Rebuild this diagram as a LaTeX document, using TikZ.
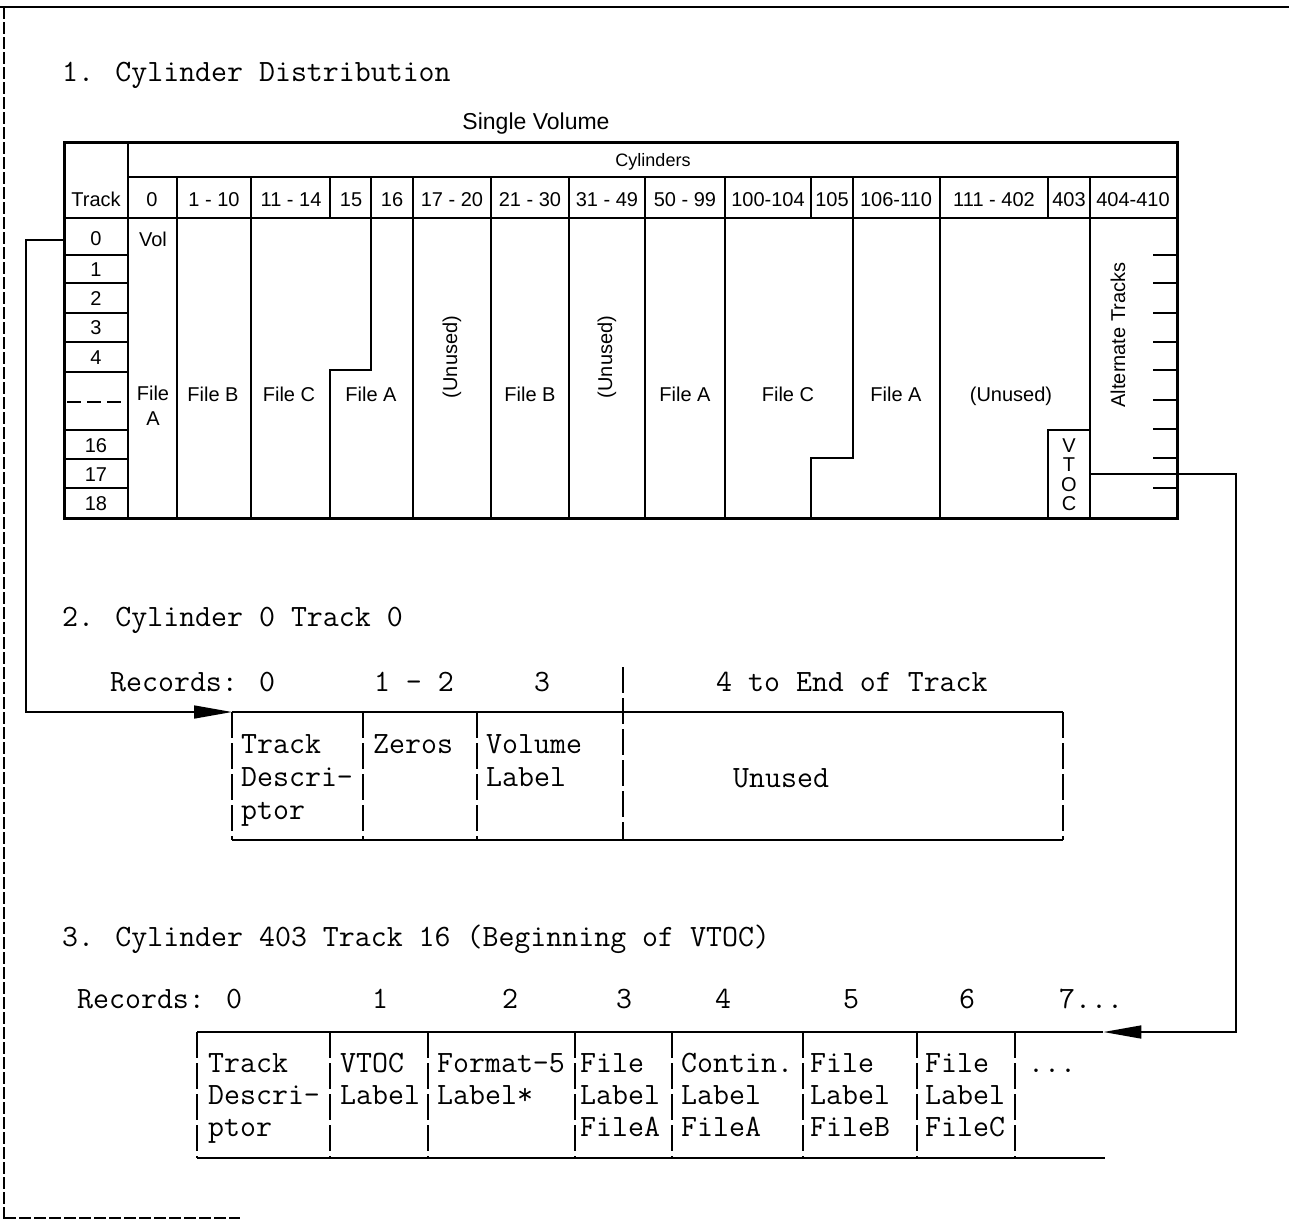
\documentclass[tikz,border=0pt]{standalone}
\usepackage{fontspec}
\setsansfont{Liberation Sans}
\usetikzlibrary{arrows.meta}
\newcommand{\twfont}{\fontsize{31}{31}\selectfont\ttfamily\addfontfeatures{FakeBold=0.8}}
\begin{document}
\begin{tikzpicture}[x=1pt,y=-1pt,
  tw/.style={font=\twfont, inner sep=0pt, anchor=base west},
  twc/.style={font=\twfont, inner sep=0pt, anchor=base},
  sf/.style={font=\fontsize{20}{20}\selectfont\sffamily, inner sep=0pt, anchor=base},
  rot/.style={font=\fontsize{20}{20}\selectfont\sffamily, inner sep=0pt, rotate=90, anchor=center},
  heavy/.style={line width=3pt, line join=miter},
  gridl/.style={line width=2.4pt},
  tline/.style={line width=1.4pt},
  tbar/.style={line width=1.4pt, dash pattern=on 26pt off 5pt},
  conn/.style={line width=1.6pt},
  arr/.style={-{Triangle[length=38pt,width=13pt]}},
  hole/.style={inner sep=0pt, draw=none}
]
\useasboundingbox (0,0) rectangle (1289,1221);

% outer frame
\draw[line width=1.5pt] (0,7) -- (1289,7);
\draw[line width=1.2pt, dash pattern=on 12pt off 3pt] (4,7) -- (4,1221);
\draw[line width=1.2pt, dash pattern=on 12pt off 3pt] (4,1218) -- (240,1218);

% ---------- section 1 ----------
\node[tw] (title1) at (62,81) {1. Cylinder Distribution};
\node[font=\fontsize{23}{23}\selectfont\sffamily, inner sep=0pt, anchor=base] (sv) at (536,129) {Single Volume};
\node[font=\fontsize{18}{18}\selectfont\sffamily, inner sep=0pt, anchor=base] (cyl) at (653,166) {Cylinders};

\draw[heavy] (64,142) rectangle (1177,518);
\draw[gridl] (128,177) -- (1177,177);
\draw[gridl] (64,218) -- (1177,218);
\draw[gridl] (128,142) -- (128,518);
\foreach \x in {177,251,330,371,413,491,569,645,725,811,853,940,1048,1090}
  \draw[gridl] (\x,177) -- (\x,218);
\foreach \x in {177,251,413,491,569,645,725,940,1090}
  \draw[gridl] (\x,218) -- (\x,518);
\draw[gridl] (371,218) -- (371,370) -- (330,370) -- (330,518);
\draw[gridl] (853,218) -- (853,458) -- (811,458) -- (811,518);
\draw[gridl] (1048,518) -- (1048,430) -- (1090,430);
\foreach \y in {255,283,313,342,372,430,459,488}
  \draw[gridl] (64,\y) -- (128,\y);
\draw[gridl, dash pattern=on 14pt off 6pt] (67,402) -- (127,402);
\foreach \y in {255,283,313,342,370,400,429,458,488}
  \draw[gridl] (1153,\y) -- (1177,\y);

% header labels
\node[sf] (hT) at (96,206) {Track};
\node[sf] (h0) at (152,206) {0};
\node[sf] (h1) at (214,206) {1 - 10};
\node[sf] (h2) at (291,206) {11 - 14};
\node[sf] (h3) at (351,206) {15};
\node[sf] (h4) at (392,206) {16};
\node[sf] (h5) at (452,206) {17 - 20};
\node[sf] (h6) at (530,206) {21 - 30};
\node[sf] (h7) at (607,206) {31 - 49};
\node[sf] (h8) at (685,206) {50 - 99};
\node[sf] (h9) at (768,206) {100-104};
\node[sf] (h10) at (832,206) {105};
\node[sf] (h11) at (896,206) {106-110};
\node[sf] (h12) at (994,206) {111 - 402};
\node[sf] (h13) at (1069,206) {403};
\node[sf] (h14) at (1133,206) {404-410};

% track numbers
\node[sf] (t0) at (96,245) {0};
\node[sf] (t1) at (96,276) {1};
\node[sf] (t2) at (96,305) {2};
\node[sf] (t3) at (96,334) {3};
\node[sf] (t4) at (96,364) {4};
\node[sf] (t16) at (96,452) {16};
\node[sf] (t17) at (96,481) {17};
\node[sf] (t18) at (96,510) {18};

% body labels
\node[sf] (vol) at (153,246) {Vol};
\node[sf] (fa0a) at (153,400) {File};
\node[sf] (fa0b) at (153,425) {A};
\node[sf] (fb1) at (213,401) {File B};
\node[sf] (fc1) at (289,401) {File C};
\node[sf] (fa1) at (371,401) {File A};
\node[rot] (un1) at (452,357) {(Unused)};
\node[sf] (fb2) at (530,401) {File B};
\node[rot] (un2) at (607,357) {(Unused)};
\node[sf] (fa2) at (685,401) {File A};
\node[sf] (fc2) at (788,401) {File C};
\node[sf] (fa3) at (896,401) {File A};
\node[sf] (un3) at (1011,401) {(Unused)};
\node[sf] (vV) at (1069,452) {V};
\node[sf] (vT) at (1069,471) {T};
\node[sf] (vO) at (1069,491) {O};
\node[sf] (vC) at (1069,510) {C};
\node[rot] (alt) at (1118,335) {Alternate Tracks};

\coordinate (trk0w) at (64,240);
\node[hole, minimum width=42pt, minimum height=88pt] (vtocbox) at (1069,474) {};

% ---------- section 2 ----------
\node[tw] (title2) at (62,626) {2. Cylinder 0 Track 0};
\node[tw] (rec2) at (110,691) {Records: 0};
\node[twc] (r2a) at (414,691) {1 – 2};
\node[twc] (r2b) at (542,691) {3};
\node[tw] (r2c) at (716,691) {4 to End of Track};

\node[hole, minimum width=131pt, minimum height=128pt, anchor=north west] (b2c0) at (232,712) {};
\draw[tline] (232,712) -- (1063,712);
\draw[tline] (232,840) -- (1063,840);
\foreach \x in {232,363,477,1063}
  \draw[tbar] (\x,712) -- (\x,840);
\draw[tbar] (623,667) -- (623,840);

\node[tw] (c2a1) at (241,753) {Track};
\node[tw] (c2a2) at (241,786) {Descri–};
\node[tw] (c2a3) at (241,819) {ptor};
\node[tw] (c2b1) at (373,753) {Zeros};
\node[tw] (c2c1) at (486,753) {Volume};
\node[tw] (c2c2) at (486,786) {Label};
\node[tw] (c2d1) at (733,787) {Unused};

% ---------- section 3 ----------
\node[tw] (title3) at (62,946) {3. Cylinder 403 Track 16 (Beginning of VTOC)};
\node[tw] (rec3) at (77,1008) {Records: 0};
\node[twc] (r31) at (380,1008) {1};
\node[twc] (r32) at (510,1008) {2};
\node[twc] (r33) at (624,1008) {3};
\node[twc] (r34) at (723,1008) {4};
\node[twc] (r35) at (851,1008) {5};
\node[twc] (r36) at (967,1008) {6};
\node[tw] (r37) at (1059,1008) {7...};

\node[hole, minimum width=88pt, minimum height=126pt, anchor=north west] (b3last) at (1015,1032) {};
\draw[tline] (197,1032) -- (1103,1032);
\draw[tline] (197,1158) -- (1105,1158);
\foreach \x in {197,330,428,575,672,803,917,1015}
  \draw[tbar] (\x,1032) -- (\x,1158);

\node[tw] (c3a1) at (208,1072) {Track};
\node[tw] (c3a2) at (208,1104) {Descri–};
\node[tw] (c3a3) at (208,1136) {ptor};
\node[tw] (c3b1) at (340,1072) {VTOC};
\node[tw] (c3b2) at (340,1104) {Label};
\node[tw] (c3c1) at (437,1072) {Format–5};
\node[tw] (c3c2) at (437,1104) {Label*};
\node[tw] (c3d1) at (580,1072) {File};
\node[tw] (c3d2) at (580,1104) {Label};
\node[tw] (c3d3) at (580,1136) {FileA};
\node[tw] (c3e1) at (681,1072) {Contin.};
\node[tw] (c3e2) at (681,1104) {Label};
\node[tw] (c3e3) at (681,1136) {FileA};
\node[tw] (c3f1) at (810,1072) {File};
\node[tw] (c3f2) at (810,1104) {Label};
\node[tw] (c3f3) at (810,1136) {FileB};
\node[tw] (c3g1) at (925,1072) {File};
\node[tw] (c3g2) at (925,1104) {Label};
\node[tw] (c3g3) at (925,1136) {FileC};
\node[tw] (c3h1) at (1028,1072) {...};

% ---------- connectors ----------
\draw[conn, arr] (trk0w) -- ++(-38,0) |- (b2c0.north west);
\draw[conn, arr] (vtocbox.east) -- (1236,474) |- (b3last.north east);

\end{tikzpicture}
\end{document}
